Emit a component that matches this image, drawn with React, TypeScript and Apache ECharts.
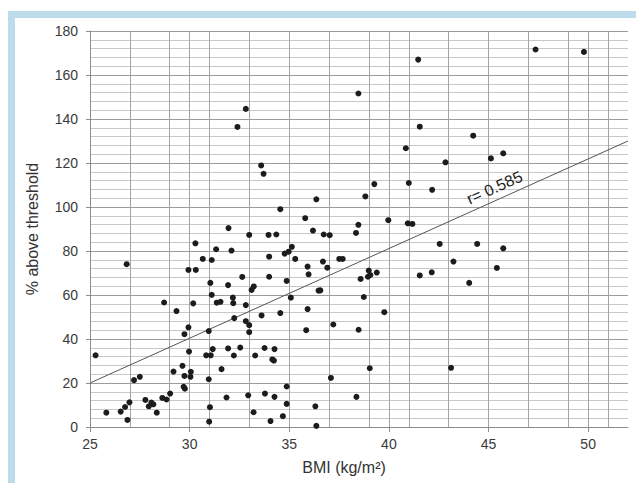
import React, { useEffect, useRef } from "react";
import * as echarts from "echarts";

const bmi: number[] = [
  25.28, 26.84, 25.82, 26.54, 26.76, 26.98, 26.88, 27.21, 27.5, 27.78, 27.95, 28.08, 28.18, 28.35, 28.63, 28.84, 29.02,
  28.72, 29.34, 29.19, 29.64, 29.74, 29.94, 29.74, 29.7, 29.76, 29.97, 30.06, 30.04, 29.94, 30.31, 30.18, 30.29, 30.66,
  31.11, 30.83, 30.96, 30.96, 31.02, 30.98, 31.06, 31.16, 31.04, 31.11, 31.36, 31.55, 31.33, 31.6, 31.85, 31.93, 31.93,
  31.95, 32.1, 32.17, 32.19, 32.24, 32.22, 32.54, 32.64, 32.82, 32.82, 32.94, 32.99, 32.99, 32.99, 33.11, 33.22, 33.29,
  33.21, 33.61, 33.76, 33.78, 33.96, 33.99, 33.99, 34.06, 34.15, 34.23, 34.26, 34.26, 34.35, 34.55, 34.55, 34.68, 34.77,
  34.87, 34.87, 34.87, 34.97, 35.13, 35.08, 35.3, 35.8, 35.92, 35.97, 35.92, 35.85, 36.36, 36.19, 36.73, 37.03, 36.69,
  36.91, 36.47, 36.56, 37.21, 37.09, 36.31, 36.36, 37.51, 37.68, 38.35, 38.47, 39.97, 38.58, 38.99, 38.95, 39.07, 39.39,
  38.74, 39.77, 38.48, 39.04, 38.37, 40.95, 41.18, 41.55, 42.15, 42.55, 43.24, 43.12, 44.03, 44.43, 45.42, 45.74, 38.47,
  41.47, 47.36, 49.79, 41.55, 44.23, 40.85, 42.84, 45.12, 45.74, 39.27, 41.0, 38.82, 42.17, 32.82, 32.4, 33.59, 33.71,
];

const aboveThreshold: number[] = [
  32.6, 74.0, 6.5, 7.0, 9.1, 11.2, 3.2, 21.3, 22.8, 12.3, 9.4, 11.1, 10.3, 6.5, 13.2, 12.5, 15.2,
  56.6, 52.7, 25.2, 27.8, 42.2, 45.3, 23.2, 18.3, 17.4, 34.3, 25.1, 22.8, 71.4, 71.4, 56.2, 83.5, 76.4,
  75.9, 32.6, 43.6, 21.7, 9.0, 2.4, 32.6, 35.4, 65.5, 60.1, 56.5, 56.9, 80.8, 26.3, 13.4, 35.7, 64.5,
  90.4, 80.2, 58.8, 56.3, 49.5, 32.5, 36.1, 68.2, 55.4, 48.1, 14.4, 87.3, 46.3, 43.1, 62.3, 63.9, 32.5,
  6.7, 50.7, 35.9, 15.2, 87.3, 77.4, 68.3, 2.7, 30.7, 30.2, 35.4, 13.7, 87.5, 99.0, 51.8, 4.9, 78.8,
  66.4, 18.4, 10.5, 79.7, 81.9, 58.8, 76.4, 94.9, 72.9, 69.4, 53.6, 44.0, 103.5, 89.3, 87.5, 87.2, 75.2,
  72.4, 62.0, 62.1, 46.6, 22.3, 9.4, 0.5, 76.4, 76.4, 88.2, 91.9, 94.0, 67.3, 71.1, 68.3, 69.1, 70.2,
  59.1, 52.2, 44.2, 26.7, 13.7, 92.6, 92.3, 68.9, 70.3, 83.2, 75.2, 26.9, 65.5, 83.2, 72.3, 81.2, 151.6,
  167.0, 171.6, 170.5, 136.5, 132.4, 126.7, 120.3, 122.1, 124.4, 110.4, 110.9, 104.8, 107.8, 144.6, 136.4, 118.9, 115.1,
];

const fitLineX: number[] = [25, 52];
const fitLineY: number[] = [20, 130];
const rLabel = "r= 0.585";
const rLabelPos: number[] = [45.3, 108.8];

const xTickValues: number[] = [25, 30, 35, 40, 45, 50];
const verticalGridLines: number[] = [25, 27, 29, 30, 31, 33, 35, 37, 39, 40, 41, 43, 45, 47, 49, 50, 51];

const X_MIN = 25;
const X_MAX = 52;
const FONT = "'Liberation Sans', Arial, sans-serif";

export default function App() {
  const ref = useRef<HTMLDivElement>(null);

  useEffect(() => {
    if (!ref.current) return;
    const chart = echarts.init(ref.current, undefined, { renderer: "svg" });

    const points = bmi.map((x, i) => [x, aboveThreshold[i]]);
    const fit = fitLineX.map((x, i) => [x, fitLineY[i]]);

    const vColors: string[] = [];
    for (let v = X_MIN; v <= X_MAX; v++) {
      vColors.push(verticalGridLines.includes(v) ? "#a4a4a4" : "rgba(0,0,0,0)");
    }

    chart.setOption({
      animation: false,
      backgroundColor: "#ffffff",
      textStyle: { fontFamily: FONT },
      graphic: [
        { type: "rect", left: 8, top: 11, shape: { width: 628, height: 7 }, style: { fill: "#bcdcec" }, z: 100 },
        { type: "rect", left: 8, top: 11, shape: { width: 7, height: 472 }, style: { fill: "#bcdcec" }, z: 100 },
      ],
      grid: { left: 90, right: 8, top: 31, bottom: 56 },
      xAxis: [
        {
          type: "value",
          min: X_MIN,
          max: X_MAX,
          interval: 5,
          position: "bottom",
          axisLine: { show: true, lineStyle: { color: "#8c8c8c", width: 1 } },
          axisTick: { show: true, length: 5, lineStyle: { color: "#8c8c8c" } },
          axisLabel: {
            color: "#3a3a3a",
            fontSize: 14,
            margin: 10,
            fontFamily: FONT,
            showMaxLabel: false,
            formatter: (v: number) => (xTickValues.includes(v) ? String(v) : ""),
          },
          splitLine: { show: false },
          name: "BMI (kg/m²)",
          nameLocation: "middle",
          nameGap: 32,
          nameTextStyle: { color: "#333", fontSize: 16, fontFamily: FONT, padding: [0, 30, 0, 0] },
        },
        {
          type: "value",
          min: 0,
          max: X_MAX - X_MIN,
          interval: 1,
          position: "top",
          axisLine: { show: false },
          axisTick: { show: false },
          axisLabel: { show: false },
          splitLine: { show: true, lineStyle: { color: vColors, width: 1 } },
        },
      ],
      yAxis: {
        type: "value",
        min: 0,
        max: 180,
        interval: 20,
        axisLine: { show: true, lineStyle: { color: "#8c8c8c", width: 1 } },
        axisTick: { show: true, length: 4, lineStyle: { color: "#8c8c8c" } },
        axisLabel: { color: "#3a3a3a", fontSize: 14, margin: 12, fontFamily: FONT },
        splitLine: { show: true, lineStyle: { color: "#9c9c9c", width: 1 } },
        minorTick: { show: false, splitNumber: 5 },
        minorSplitLine: { show: true, lineStyle: { color: "#c8c8c8", width: 1 } },
        name: "% above threshold",
        nameLocation: "middle",
        nameGap: 50,
        nameTextStyle: { color: "#333", fontSize: 16, fontFamily: FONT },
      },
      series: [
        {
          type: "line",
          data: fit,
          xAxisIndex: 0,
          showSymbol: false,
          symbol: "none",
          lineStyle: { color: "#555", width: 1 },
          silent: true,
          z: 3,
        },
        {
          type: "scatter",
          data: points,
          xAxisIndex: 0,
          symbol: "circle",
          symbolSize: 6,
          itemStyle: { color: "#1c1c1c", opacity: 1 },
          z: 4,
        },
        {
          type: "scatter",
          data: [rLabelPos],
          xAxisIndex: 0,
          symbol: "circle",
          symbolSize: 1,
          silent: true,
          itemStyle: { color: "rgba(0,0,0,0)", opacity: 1 },
          label: {
            show: true,
            position: "inside",
            formatter: rLabel,
            rotate: 24,
            color: "#1e1e1e",
            fontSize: 16,
            fontFamily: FONT,
            textBorderWidth: 0,
          },
          z: 5,
        },
      ],
    });

    return () => {
      chart.dispose();
    };
  }, []);

  return (
    <div
      ref={ref}
      style={{ position: "fixed", left: 0, top: 0, width: 636, height: 483, background: "#fff" }}
    />
  );
}
